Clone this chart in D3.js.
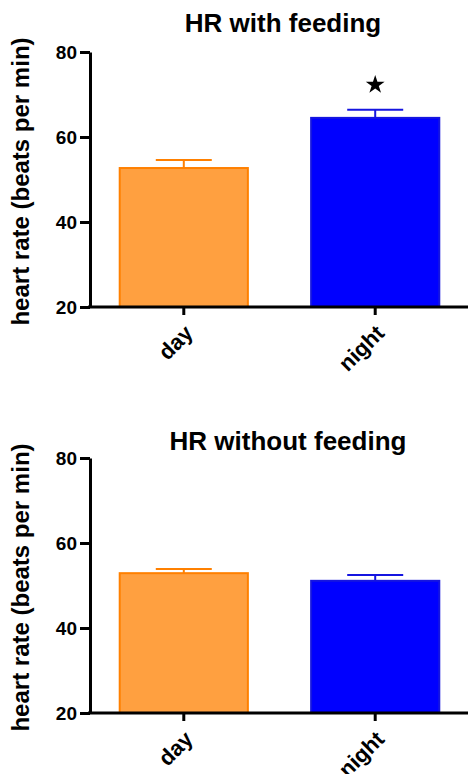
<!DOCTYPE html>
<html><head><meta charset="utf-8">
<script src="https://cdn.jsdelivr.net/npm/d3@7"></script>
<style>
body{margin:0;background:#fff;}
text{font-family:"Liberation Sans",Arial,Helvetica,sans-serif;font-weight:bold;}
</style></head>
<body>
<svg id="chart" width="468" height="774"></svg>
<script>
const categories = ["day", "night"];
const fedMeans = [52.7, 64.5];
const fedErrors = [1.9, 1.9];
const unfedMeans = [52.9, 51.1];
const unfedErrors = [1.0, 1.4];
const yTicks = [20, 40, 60, 80];
const titles = ["HR with feeding", "HR without feeding"];
const yLabel = "heart rate (beats per min)";
const fills = ["#FFA040", "#0000FF"];
const strokes = ["#FF8000", "#1515E0"];

const svg = d3.select("#chart");

function panel(top, title, titleX, titleY, means, errs, starIdx) {
  const g = svg.append("g").attr("transform", `translate(0,${top})`);
  const y = d3.scaleLinear().domain([20, 80]).range([255, 0]);
  const x = d3.scaleBand().domain(categories).range([90, 469]).paddingInner(0.32).paddingOuter(0.15);
  const data = categories.map((c, i) => ({c, m: means[i], e: errs[i], i}));

  data.forEach(d => {
    const cx = x(d.c) + x.bandwidth() / 2;
    g.append("line").attr("x1", cx).attr("x2", cx).attr("y1", y(d.m)).attr("y2", y(d.m + d.e))
      .attr("stroke", strokes[d.i]).attr("stroke-width", 2);
    g.append("line").attr("x1", cx - 28).attr("x2", cx + 28).attr("y1", y(d.m + d.e)).attr("y2", y(d.m + d.e))
      .attr("stroke", strokes[d.i]).attr("stroke-width", 2);
  });
  g.selectAll("rect.bar").data(data).join("rect").attr("class", "bar")
    .attr("x", d => x(d.c) + 1).attr("width", x.bandwidth() - 2)
    .attr("y", d => y(d.m)).attr("height", d => y(20) - y(d.m))
    .attr("fill", d => fills[d.i]).attr("stroke", d => strokes[d.i]).attr("stroke-width", 2);

  const ya = g.append("g").attr("transform", "translate(90,0)")
    .call(d3.axisLeft(y).tickValues(yTicks).tickSize(10).tickPadding(3).tickSizeOuter(0));
  ya.select(".domain").attr("stroke", "#000").attr("stroke-width", 3);
  ya.selectAll(".tick line").attr("stroke", "#000").attr("stroke-width", 3);
  ya.selectAll(".tick text").attr("font-size", 19).attr("fill", "#000").attr("font-family", null);

  const xa = g.append("g").attr("transform", `translate(0,${y(20)})`)
    .call(d3.axisBottom(x).tickSize(8).tickSizeOuter(0));
  xa.select(".domain").attr("stroke", "#000").attr("stroke-width", 3).attr("d", "M88,0H468");
  xa.selectAll(".tick line").attr("stroke", "#000").attr("stroke-width", 3);
  xa.selectAll(".tick text").attr("font-size", 22).attr("fill", "#000").attr("font-family", null)
    .attr("text-anchor", "end").attr("dy", "0.35em")
    .attr("transform", "translate(5,22) rotate(-45)").attr("y", 0).attr("x", 0);

  g.append("text").attr("x", titleX).attr("y", titleY).attr("text-anchor", "middle")
    .attr("font-size", 26).text(title);
  g.append("text").attr("transform", `translate(29,${y(50) + 2}) rotate(-90)`)
    .attr("text-anchor", "middle").attr("font-size", 24).text(yLabel);

  if (starIdx != null) {
    const d = data[starIdx];
    g.append("path").attr("d", d3.symbol(d3.symbolStar, 110)())
      .attr("transform", `translate(${x(d.c) + x.bandwidth() / 2},${y(d.m + d.e) - 25})`)
      .attr("fill", "#000");
  }
}

panel(52, titles[0], 283, -20, fedMeans, fedErrors, 1);
panel(458, titles[1], 288, -8, unfedMeans, unfedErrors, null);
</script>
</body></html>
